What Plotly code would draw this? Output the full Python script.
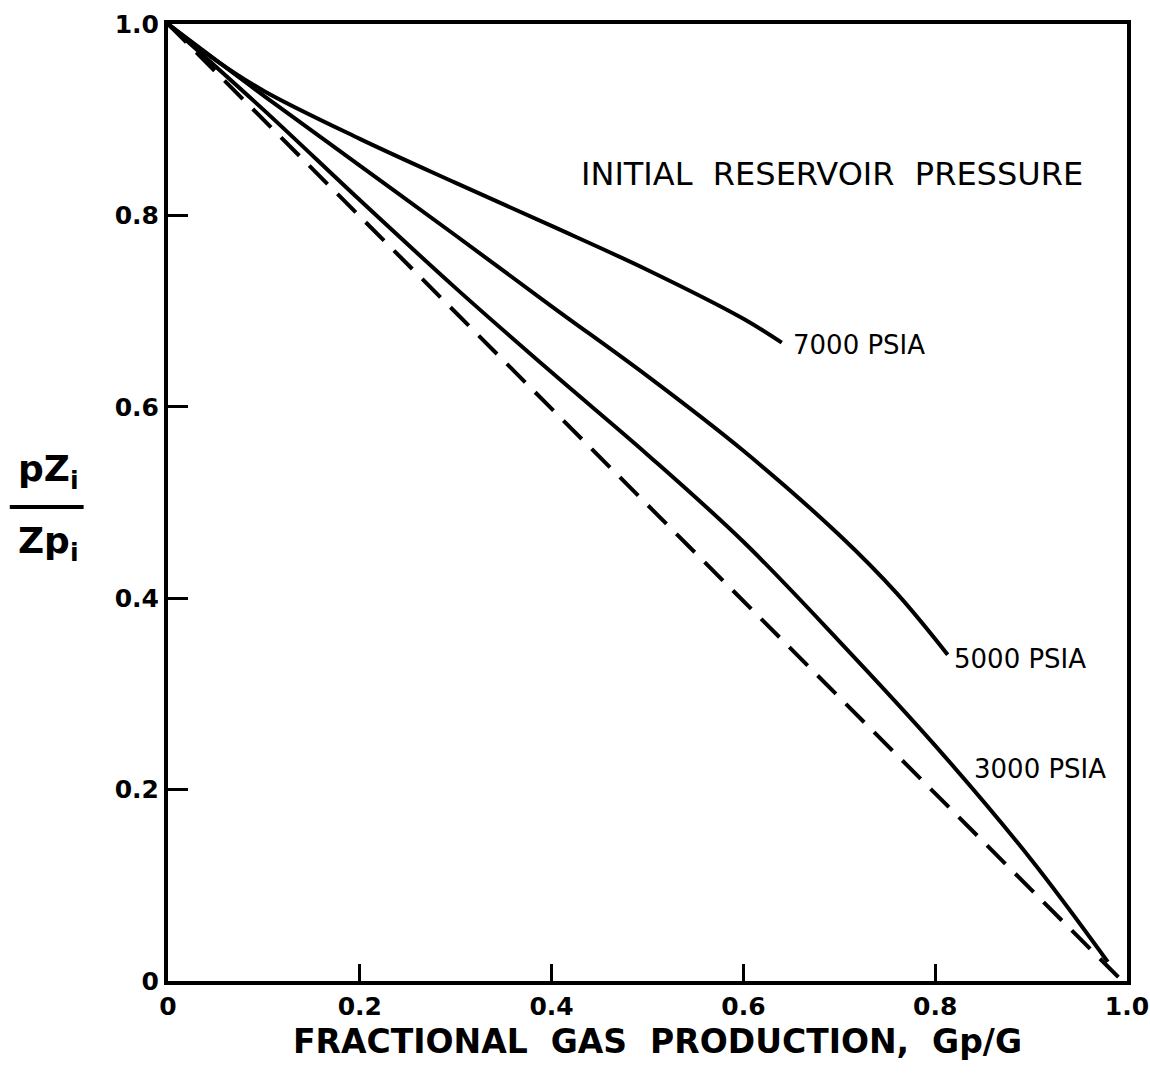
import plotly.graph_objects as go

# Data
x_7000 = [0.0, 0.05, 0.10, 0.20, 0.30, 0.40, 0.50, 0.60, 0.64]
y_7000 = [1.0, 0.962, 0.930, 0.880, 0.834, 0.789, 0.743, 0.692, 0.667]

x_5000 = [0.0, 0.10, 0.20, 0.30, 0.40, 0.50, 0.60, 0.70, 0.76, 0.813]
y_5000 = [1.0, 0.925, 0.852, 0.779, 0.705, 0.632, 0.554, 0.466, 0.405, 0.341]

x_3000 = [0.0, 0.10, 0.20, 0.30, 0.40, 0.50, 0.60, 0.70, 0.80, 0.90, 0.98]
y_3000 = [1.0, 0.910, 0.816, 0.724, 0.636, 0.550, 0.459, 0.355, 0.246, 0.127, 0.020]

x_ideal = [0.0, 0.995]
y_ideal = [1.0, 0.0]

tick_vals = [0, 0.2, 0.4, 0.6, 0.8, 1.0]
tick_text = ["0", "0.2", "0.4", "0.6", "0.8", "1.0"]

curve_labels = ["7000 PSIA", "5000 PSIA", "3000 PSIA"]

FONT = "DejaVu Sans"

fig = go.Figure()
for xs, ys in [(x_7000, y_7000), (x_5000, y_5000), (x_3000, y_3000)]:
    fig.add_trace(go.Scatter(x=xs, y=ys, mode="lines",
                             line=dict(color="black", width=4, shape="spline", smoothing=1.0),
                             showlegend=False, hoverinfo="skip"))
fig.add_trace(go.Scatter(x=x_ideal, y=y_ideal, mode="lines",
                         line=dict(color="black", width=4, dash="26px,14px"),
                         showlegend=False, hoverinfo="skip"))

ann_pos = [(0.650, 0.665), (0.818, 0.336), (0.838, 0.222)]
for (ax, ay), txt in zip(ann_pos, curve_labels):
    fig.add_annotation(x=ax, y=ay, text=txt, showarrow=False, xanchor="left", yanchor="middle",
                       font=dict(family=FONT, size=26, color="black"))

fig.add_annotation(x=0.956, y=0.843, text="INITIAL&nbsp;&nbsp;RESERVOIR&nbsp;&nbsp;PRESSURE",
                   showarrow=False, xanchor="right", yanchor="middle",
                   font=dict(family=FONT, size=32, color="black"))

# x-axis title
fig.add_annotation(xref="paper", yref="paper", x=0.51, y=-0.063,
                   text="FRACTIONAL&nbsp;&nbsp;GAS&nbsp;&nbsp;PRODUCTION,&nbsp;&nbsp;Gp/G",
                   showarrow=False, xanchor="center", yanchor="middle",
                   font=dict(family=FONT, size=33, color="black", weight="bold"))

# y-axis fraction label
fig.add_annotation(xref="paper", yref="paper", x=-0.125, y=0.532, text="pZ<sub>i</sub>",
                   showarrow=False, xanchor="center", yanchor="middle",
                   font=dict(family=FONT, size=36, color="black", weight="bold"))
fig.add_annotation(xref="paper", yref="paper", x=-0.125, y=0.457, text="Zp<sub>i</sub>",
                   showarrow=False, xanchor="center", yanchor="middle",
                   font=dict(family=FONT, size=36, color="black", weight="bold"))
fig.add_shape(type="line", xref="paper", yref="paper", x0=-0.165, x1=-0.088, y0=0.4953, y1=0.4953,
              line=dict(color="black", width=4))

axis_common = dict(range=[0, 1.0], showline=True, linecolor="black", linewidth=4, mirror=True,
                   showgrid=False, zeroline=False, tickmode="array", tickvals=tick_vals,
                   ticktext=tick_text, ticks="inside", tickcolor="black", tickwidth=3,
                   automargin=False, ticklabeloverflow="allow",
                   tickfont=dict(family=FONT, size=25, color="black", weight="bold"))

fig.update_xaxes(**axis_common, ticklen=17, ticklabelstandoff=0)
fig.update_yaxes(**axis_common, ticklen=20, ticklabelstandoff=0)

fig.update_layout(width=1150, height=1073, margin=dict(l=168, r=23, t=24, b=92),
                  plot_bgcolor="white", paper_bgcolor="white", showlegend=False)

fig.write_html("out.html")
